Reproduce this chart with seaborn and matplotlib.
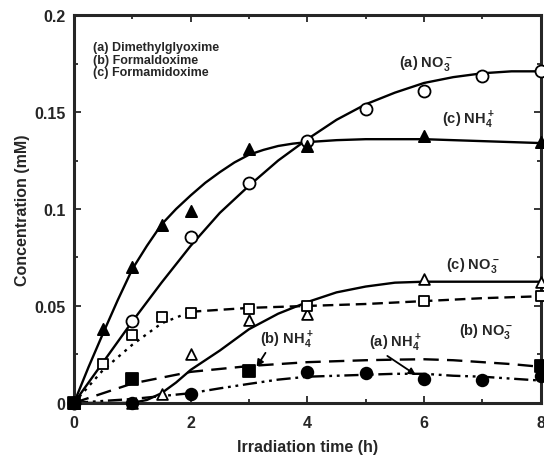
import numpy as np
import pandas as pd
import matplotlib
matplotlib.use("Agg")
import matplotlib.pyplot as plt
import seaborn as sns

# ---------------- data ----------------
# measured points
a_no3_x = [0, 1, 2, 3, 4, 5, 6, 7, 8]
a_no3_y = [0, 0.042, 0.0856, 0.1134, 0.135, 0.1515, 0.161, 0.1686, 0.171]

c_nh4_x = [0, 0.5, 1, 1.5, 2, 3, 4, 6, 8]
c_nh4_y = [0, 0.038, 0.070, 0.092, 0.099, 0.131, 0.1325, 0.1376, 0.1345]

c_no3_x = [0, 1, 1.5, 2, 3, 4, 6, 8]
c_no3_y = [0, 0.0, 0.0046, 0.0253, 0.0428, 0.046, 0.064, 0.0625]

b_no3_x = [0, 0.5, 1, 1.5, 2, 3, 4, 6, 8]
b_no3_y = [0, 0.020, 0.035, 0.0443, 0.0464, 0.0485, 0.050, 0.0526, 0.055]

b_nh4_x = [0, 1, 3, 8]
b_nh4_y = [0, 0.0124, 0.0165, 0.019]

a_nh4_x = [0, 1, 2, 4, 5, 6, 7, 8]
a_nh4_y = [0, 0.0, 0.0046, 0.016, 0.0155, 0.0124, 0.0119, 0.014]

# fitted curves
a_no3_fit_x = [0, 0.5, 1, 1.5, 2, 2.5, 3, 3.5, 4, 4.5, 5, 5.5, 6, 6.5, 7, 7.5, 8]
a_no3_fit_y = [0, 0.021, 0.042, 0.062, 0.081, 0.098, 0.112, 0.125, 0.136, 0.146,
               0.154, 0.160, 0.165, 0.168, 0.170, 0.171, 0.171]
c_nh4_fit_x = [0, 0.25, 0.5, 0.75, 1, 1.25, 1.5, 1.75, 2, 2.25, 2.5, 2.75, 3, 3.25,
               3.5, 3.75, 4, 4.5, 5, 5.5, 6, 6.5, 7, 7.5, 8]
c_nh4_fit_y = [0, 0.0185, 0.036, 0.053, 0.069, 0.081, 0.092, 0.100, 0.107, 0.1135,
               0.119, 0.124, 0.128, 0.1305, 0.1325, 0.1337, 0.1345, 0.1355,
               0.136, 0.136, 0.136, 0.1355, 0.135, 0.1345, 0.134]
c_no3_fit_x = [0, 0.5, 1, 1.25, 1.5, 1.75, 2, 2.25, 2.5, 3, 3.5, 4, 4.5, 5, 5.5,
               6, 7, 8]
c_no3_fit_y = [0, 0, 0, 0.0015, 0.005, 0.0105, 0.017, 0.022, 0.027, 0.038, 0.046,
               0.052, 0.057, 0.060, 0.062, 0.0625, 0.0625, 0.0625]
b_nh4_fit_x = [0, 0.5, 1, 1.5, 2, 2.5, 3, 3.5, 4, 4.5, 5, 5.5, 6, 6.5, 7, 7.5, 8]
b_nh4_fit_y = [0, 0.005, 0.010, 0.013, 0.016, 0.0175, 0.019, 0.020, 0.021, 0.0215,
               0.022, 0.0223, 0.0225, 0.022, 0.021, 0.020, 0.0186]
a_nh4_fit_x = [0, 0.5, 1, 1.5, 2, 2.5, 3, 3.5, 4, 4.5, 5, 5.5, 6, 6.5, 7, 7.5, 8]
a_nh4_fit_y = [0, 0.001, 0.002, 0.0035, 0.005, 0.0075, 0.0098, 0.012, 0.0135, 0.014,
               0.0145, 0.015, 0.015, 0.014, 0.0135, 0.0125, 0.0115]
b_no3_fit_early_x = [0, 0.5, 1, 1.5, 2]
b_no3_fit_early_y = [0, 0.017, 0.030, 0.041, 0.047]
b_no3_fit_late_x = [2, 3, 4, 5, 6, 7, 8]
b_no3_fit_late_y = [0.047, 0.049, 0.050, 0.051, 0.0525, 0.054, 0.055]

legend_lines = ["(a) Dimethylglyoxime", "(b) Formaldoxime", "(c) Formamidoxime"]
x_ticks = [0, 2, 4, 6, 8]
y_ticks = [0, 0.05, 0.1, 0.15, 0.2]
y_tick_labels = ["0", "0.05", "0.1", "0.15", "0.2"]

# ---------------- style ----------------
sns.set_style("ticks")
plt.rcParams["font.family"] = ["Liberation Sans", "DejaVu Sans"]
plt.rcParams["font.weight"] = "bold"
plt.rcParams["mathtext.fontset"] = "custom"
plt.rcParams["mathtext.rm"] = "Liberation Sans:bold"
plt.rcParams["mathtext.bf"] = "Liberation Sans:bold"
plt.rcParams["mathtext.default"] = "bf"

fig = plt.figure(figsize=(5.44, 4.6), dpi=100)
ax = fig.add_axes([0.136, 0.122, 0.858, 0.843])

lw = 1.7
k = "black"

def curve(x, y, **kw):
    sns.lineplot(x=x, y=y, ax=ax, color=k, lw=lw, sort=False, estimator=None, **kw)
    ax.lines[-1].set_solid_joinstyle("round")

curve(a_no3_fit_x, a_no3_fit_y)
curve(c_nh4_fit_x, c_nh4_fit_y)
curve(c_no3_fit_x, c_no3_fit_y)
curve(b_no3_fit_early_x, b_no3_fit_early_y)
ax.lines[-1].set_dashes([1.2, 2.2])
curve(b_no3_fit_late_x, b_no3_fit_late_y)
ax.lines[-1].set_dashes([4.5, 2.5])
curve(b_nh4_fit_x, b_nh4_fit_y)
ax.lines[-1].set_dashes([6.5, 3.5])
curve(a_nh4_fit_x, a_nh4_fit_y)
ax.lines[-1].set_dashes([6, 2, 1.2, 2, 1.2, 2])

def pts(x, y, marker, filled, s):
    sns.scatterplot(x=x, y=y, ax=ax, marker=marker, s=s,
                    facecolor=(k if filled else "white"), edgecolor=k,
                    linewidth=1.3, zorder=5, clip_on=False)

pts(a_no3_x, a_no3_y, "o", False, 75)
pts(c_nh4_x, c_nh4_y, "^", True, 65)
pts(c_no3_x, c_no3_y, "^", False, 60)
pts(b_no3_x, b_no3_y, "s", False, 48)
pts(b_nh4_x, b_nh4_y, "s", True, 65)
pts(a_nh4_x, a_nh4_y, "o", True, 70)

# ---------------- annotations ----------------
fs = 10.5
ax.text(5.57, 0.1758, r"(a) NO$_3^-$", fontsize=fs, va="center", ha="left")
ax.text(6.31, 0.1464, r"(c) NH$_4^+$", fontsize=fs, va="center", ha="left")
ax.text(6.38, 0.0716, r"(c) NO$_3^-$", fontsize=fs, va="center", ha="left")
ax.text(6.60, 0.0371, r"(b) NO$_3^-$", fontsize=fs, va="center", ha="left")
ax.annotate(r"(a) NH$_4^+$", xy=(5.86, 0.0144), xytext=(5.06, 0.0314),
            fontsize=fs, va="center", ha="left",
            arrowprops=dict(arrowstyle="-|>", color=k, lw=1.3,
                            shrinkA=0, shrinkB=0, mutation_scale=10,
                            relpos=(0.25, 0.0)))
ax.annotate(r"(b) NH$_4^+$", xy=(3.13, 0.0186), xytext=(3.18, 0.033),
            fontsize=fs, va="center", ha="left",
            arrowprops=dict(arrowstyle="-|>", color=k, lw=1.3,
                            shrinkA=0, shrinkB=0, mutation_scale=10,
                            relpos=(0.15, 0.0)))

for i, line in enumerate(legend_lines):
    ax.text(0.33, 0.1835 - i * 0.0064, line, fontsize=9, va="center", ha="left")

# ---------------- axes ----------------
ax.set_xlim(0, 8)
ax.set_ylim(0, 0.2)
ax.set_xticks(x_ticks)
ax.set_xticklabels([str(t) for t in x_ticks])
ax.set_yticks(y_ticks)
ax.set_yticklabels(y_tick_labels)
ax.set_xticks([1, 3, 5, 7], minor=True)
ax.set_yticks([0.025, 0.075, 0.125, 0.175], minor=True)
ax.tick_params(axis="both", which="both", direction="in", top=True, right=True,
               width=1.3, labelsize=11.5)
ax.tick_params(axis="x", which="major", pad=9)
ax.tick_params(axis="y", which="major", pad=6)
ax.tick_params(which="major", length=5)
ax.tick_params(which="minor", length=3)
for lab in ax.get_xticklabels() + ax.get_yticklabels():
    lab.set_fontweight("bold")
for sp in ax.spines.values():
    sp.set_linewidth(2.2)
    sp.set_visible(True)

ax.set_xlabel("Irradiation time (h)", fontsize=11.5, fontweight="bold", labelpad=6)
ax.set_ylabel("Concentration (mM)", fontsize=11.5, fontweight="bold", labelpad=3)

fig.savefig("out.png", dpi=100)
